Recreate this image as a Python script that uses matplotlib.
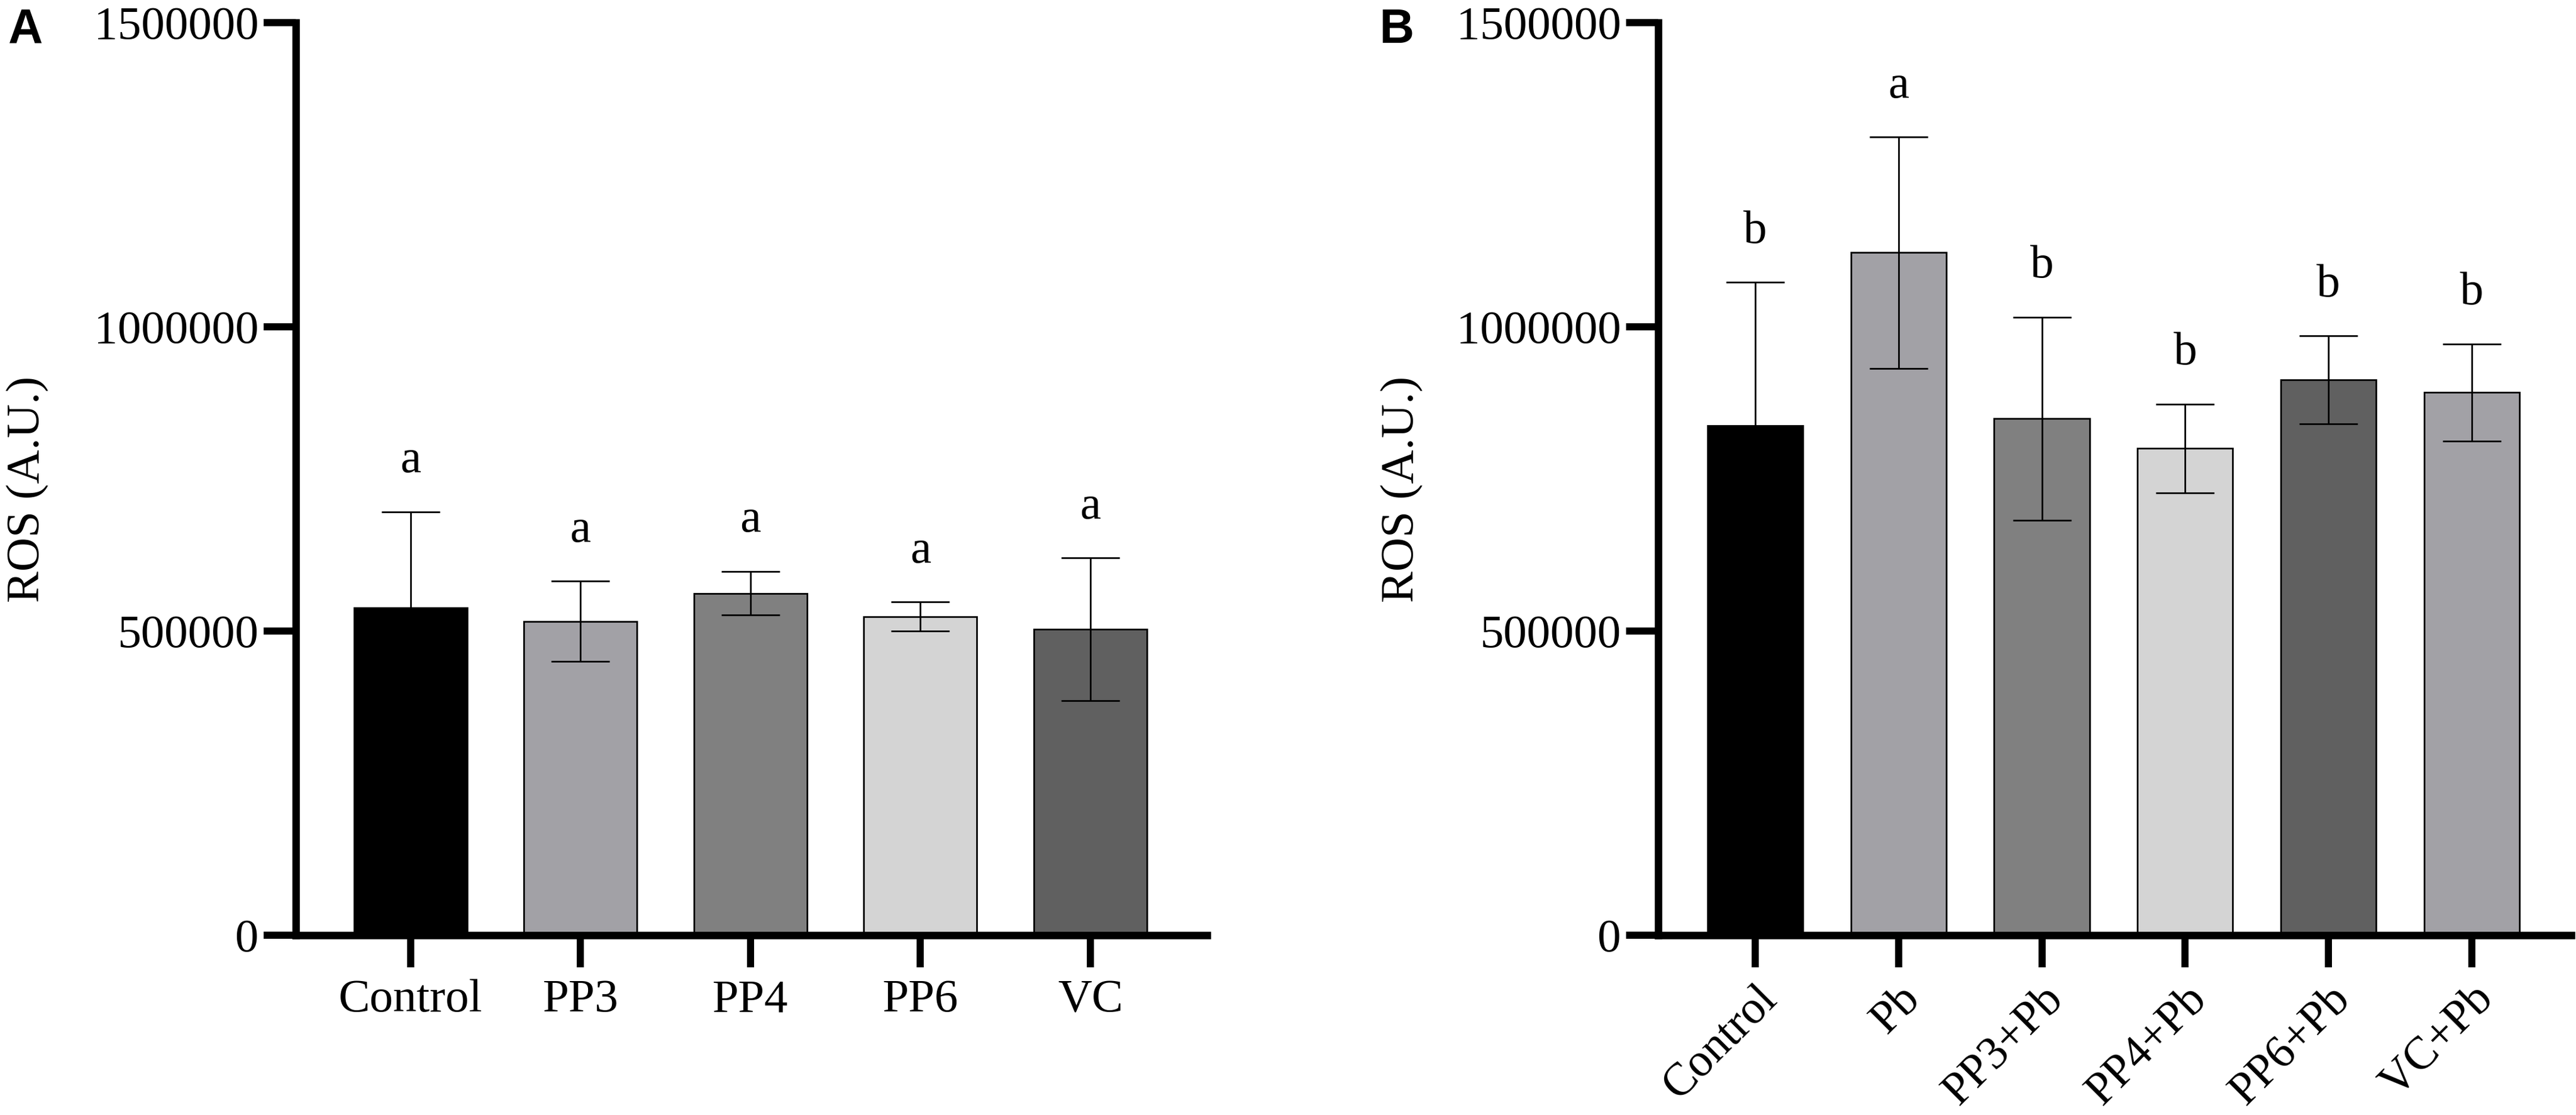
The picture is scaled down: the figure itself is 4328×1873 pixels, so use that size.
import matplotlib.pyplot as plt

plt.rcParams['font.family'] = ['Liberation Serif', 'DejaVu Serif']

# Panel A data
groups_a = ['Control', 'PP3', 'PP4', 'PP6', 'VC']
ros_a = [538000, 516000, 562000, 524000, 503000]
sd_a = [158000, 66000, 36000, 24000, 117000]
letters_a = ['a', 'a', 'a', 'a', 'a']
colors_a = ['#000000', '#A2A1A6', '#808080', '#D4D4D4', '#606060']

# Panel B data
groups_b = ['Control', 'Pb', 'PP3+Pb', 'PP4+Pb', 'PP6+Pb', 'VC+Pb']
ros_b = [838000, 1122000, 849000, 800000, 913000, 892000]
sd_b = [235000, 190000, 167000, 73000, 72000, 80000]
letters_b = ['b', 'a', 'b', 'b', 'b', 'b']
colors_b = ['#000000', '#A2A1A6', '#808080', '#D4D4D4', '#606060', '#A2A1A6']

yticks = [0, 500000, 1000000, 1500000]
ytick_labels = ['0', '500000', '1000000', '1500000']

FS = 28.5
SPINE_W = 4.5


def draw_panel(ax, groups, vals, sds, letters, colors, xlim, rotate, label_x):
    x = list(range(len(groups)))
    ax.bar(x, vals, width=0.665, color=colors, edgecolor='black',
           linewidth=1.0, zorder=2)
    ax.errorbar(x, vals, yerr=sds, fmt='none', ecolor='black',
                elinewidth=1.0, capsize=17.5, capthick=1.0, zorder=3)
    # significance letters sit just above the upper error cap
    for xi, v, s, t in zip(x, vals, sds, letters):
        ax.text(xi, v + s + 65000, t, ha='center', va='baseline',
                fontsize=FS)

    ax.set_xlim(*xlim)
    ax.set_ylim(0, 1500000)
    for side in ['top', 'right']:
        ax.spines[side].set_visible(False)
    for side in ['left', 'bottom']:
        ax.spines[side].set_linewidth(SPINE_W)

    ax.set_yticks(yticks)
    ax.set_yticklabels(ytick_labels, fontsize=FS)
    ax.set_xticks(x)
    if rotate:
        ax.set_xticklabels(groups, fontsize=28, rotation=45, ha='right',
                           va='top', rotation_mode='anchor')
        ax.tick_params(axis='x', pad=6)
    else:
        ax.set_xticklabels(groups, fontsize=FS)
        ax.tick_params(axis='x', pad=7)
    ax.tick_params(axis='both', length=19.5, width=4.3, direction='out')
    ax.tick_params(axis='y', pad=3)

    ax.set_ylabel('ROS (A.U.)', fontsize=FS)
    ax.yaxis.set_label_coords(label_x, 0.489)


fig = plt.figure(figsize=(21.64, 9.365), dpi=200)
ax_a = fig.add_axes([0.1148, 0.1612, 0.3537, 0.8185])
ax_b = fig.add_axes([0.6437, 0.1612, 0.3544, 0.8185])

draw_panel(ax_a, groups_a, ros_a, sd_a, letters_a, colors_a,
           (-0.675, 4.685), False, -0.271)
draw_panel(ax_b, groups_b, ros_b, sd_b, letters_b, colors_b,
           (-0.677, 5.693), True, -0.257)

fig.text(14 / 4328, 1 - 13 / 1873, 'A', fontsize=29, fontweight='bold',
         family=['Liberation Sans', 'DejaVu Sans'], ha='left', va='top')
fig.text(2318 / 4328, 1 - 13 / 1873, 'B', fontsize=29, fontweight='bold',
         family=['Liberation Sans', 'DejaVu Sans'], ha='left', va='top')

fig.savefig('out.png', dpi=200)
